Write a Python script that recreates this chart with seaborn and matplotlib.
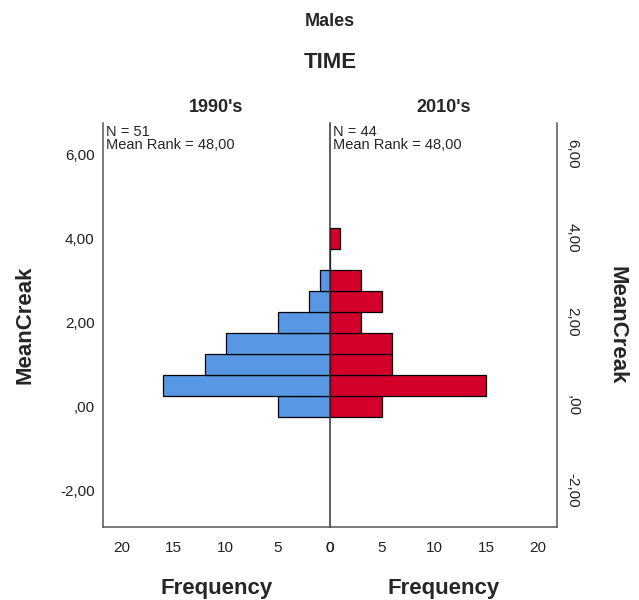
import numpy as np
import pandas as pd
import matplotlib
matplotlib.use("Agg")
import matplotlib.pyplot as plt
import seaborn as sns

# data (bin centres of MeanCreak, width 0.5)
mean_creak_bins = [0.0, 0.5, 1.0, 1.5, 2.0, 2.5, 3.0, 3.5, 4.0]
freq_1990s = [5, 16, 12, 10, 5, 2, 1, 0, 0]
freq_2010s = [5, 15, 6, 6, 3, 5, 3, 0, 1]
y_ticks = [-2, 0, 2, 4, 6]
y_tick_labels = ["-2,00", ",00", "2,00", "4,00", "6,00"]
x_ticks = [0, 5, 10, 15, 20]
panel_titles = ["1990's", "2010's"]
panel_notes = ["N = 51\nMean Rank = 48,00", "N = 44\nMean Rank = 48,00"]

sns.set_style("white")
plt.rcParams['font.family'] = ['Liberation Sans', 'DejaVu Sans']

df = pd.DataFrame({'MeanCreak': mean_creak_bins,
                   '1990s': freq_1990s,
                   '2010s': freq_2010s})
edges = [b - 0.25 for b in mean_creak_bins] + [mean_creak_bins[-1] + 0.25]

fig = plt.figure(figsize=(6.39, 6.0), dpi=100)
ax_l = fig.add_axes([0.1612, 0.1217, 0.3552, 0.6733])
ax_r = fig.add_axes([0.5164, 0.1217, 0.3552, 0.6733])

line_col = '#555555'
for ax, col, color in [(ax_l, '1990s', '#5797E3'), (ax_r, '2010s', '#D3002C')]:
    sns.histplot(data=df, y='MeanCreak', weights=col, bins=edges,
                 color=color, alpha=1, edgecolor='black', linewidth=0.9, ax=ax)
    ax.set_ylim(-2.88, 6.74)
    ax.set_yticks(y_ticks)
    ax.set_xticks(x_ticks)
    ax.set_xticklabels([str(t) for t in x_ticks], fontsize=11, color='#222222')
    ax.tick_params(axis='x', length=0, pad=10)
    ax.tick_params(axis='y', length=0, pad=6)
    ax.spines['top'].set_visible(False)
    for s in ['left', 'right', 'bottom']:
        ax.spines[s].set_color(line_col)
        ax.spines[s].set_linewidth(1.1)
    ax.set_xlabel('Frequency', fontsize=16, fontweight='bold', va='center')
    ax.xaxis.set_label_coords(0.5, -0.153)

# left panel: bars grow leftwards
ax_l.set_xlim(21.8, 0)
ax_l.spines['right'].set_visible(False)
ax_l.set_yticklabels(y_tick_labels, fontsize=11, color='#222222')
ax_l.set_ylabel('MeanCreak', fontsize=16, fontweight='bold', va='center')
ax_l.yaxis.set_label_coords(-0.344, 0.5)

ax_r.set_xlim(0, 21.8)
ax_r.spines['left'].set_color('#333333')
ax_r.yaxis.tick_right()
ax_r.yaxis.set_label_position('right')
ax_r.set_yticklabels(y_tick_labels, fontsize=11, color='#222222',
                     rotation=-90, va='center')
ax_r.set_ylabel('MeanCreak', fontsize=16, fontweight='bold', rotation=-90, va='center')
ax_r.yaxis.set_label_coords(1.264, 0.5)

for ax, title, note in zip([ax_l, ax_r], panel_titles, panel_notes):
    ax.set_title(title, fontsize=13, fontweight='bold', pad=8)
    ax.text(0.012, 0.995, note, transform=ax.transAxes, fontsize=10.5,
            va='top', ha='left', linespacing=0.9)

fig.text(0.5164, 1 - 63 / 600, 'TIME', ha='center', va='center', fontsize=16, fontweight='bold')
fig.text(0.5164, 1 - 22 / 600, 'Males', ha='center', va='center', fontsize=13, fontweight='bold')

fig.savefig('out.png', dpi=100)
